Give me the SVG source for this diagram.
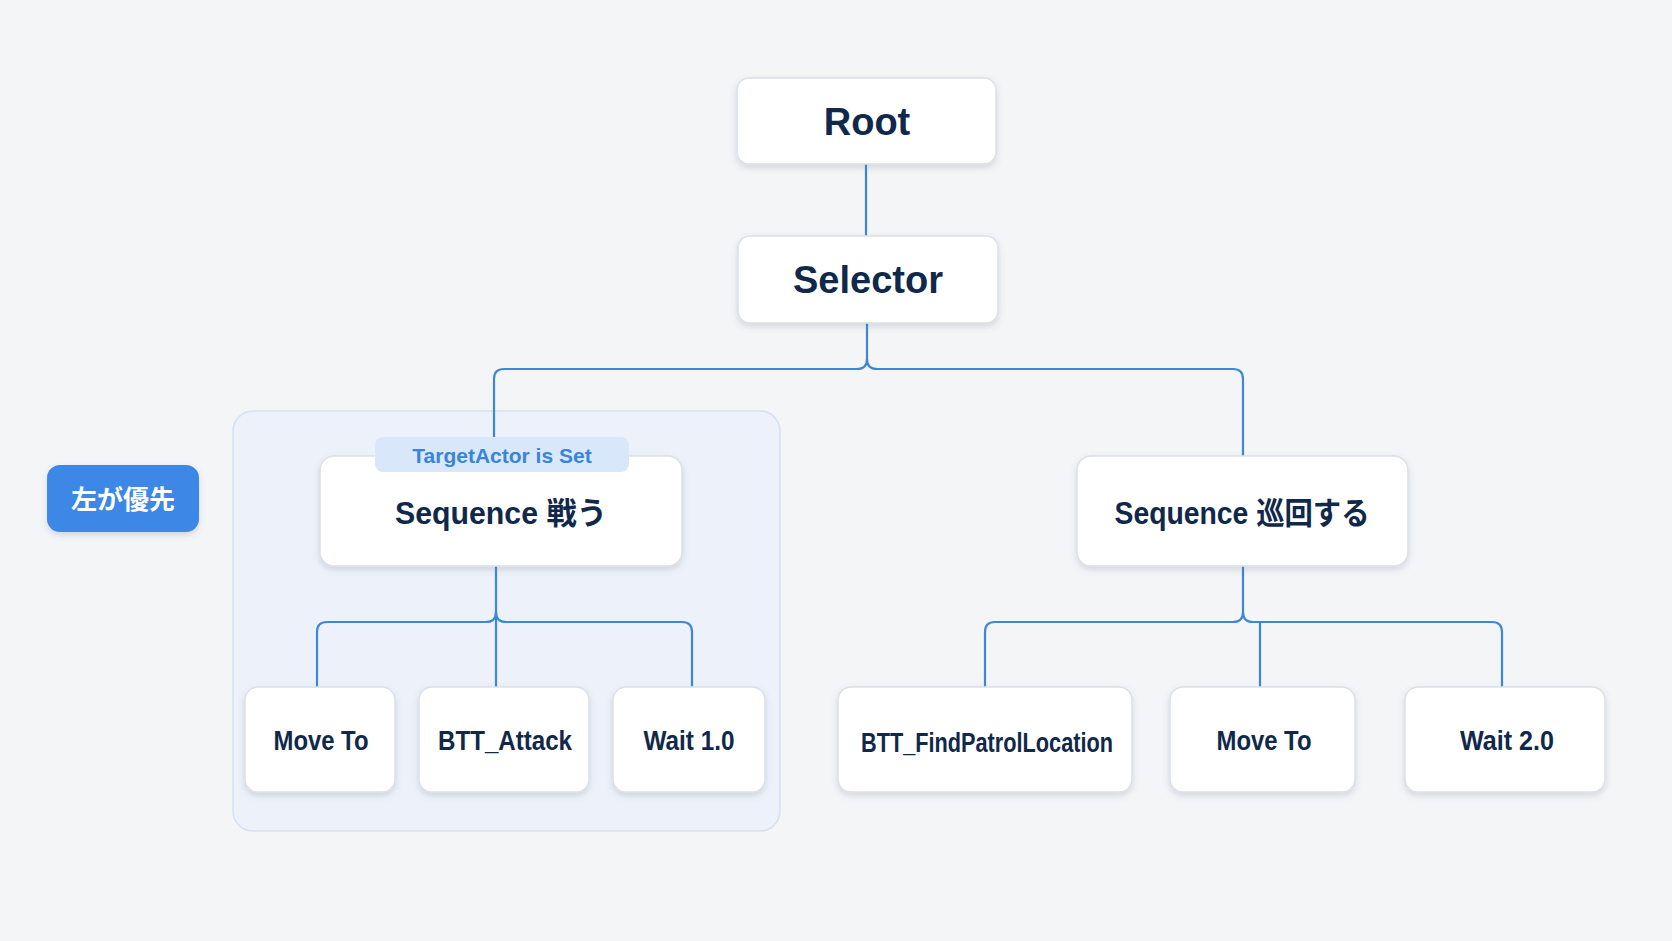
<svg xmlns="http://www.w3.org/2000/svg" width="1672" height="941" viewBox="0 0 1672 941">
<defs>
<filter id="sh" x="-20%" y="-20%" width="140%" height="150%">
<feDropShadow dx="0" dy="3" stdDeviation="3" flood-color="#5a6a80" flood-opacity="0.22"/>
</filter>
<style>
.node{fill:#ffffff;stroke:#dce1e7;stroke-width:1.5;filter:url(#sh)}
.t{font-family:"Liberation Sans","Noto Sans CJK JP",sans-serif;font-weight:700;fill:#10284a;text-anchor:middle}
.big{font-size:38px}
.mid{font-size:31px}
.leaf{font-size:27px}
.con{fill:none;stroke:#3d86d8;stroke-width:2.2;stroke-linecap:round;stroke-linejoin:round}
</style>
</defs>
<rect x="0" y="0" width="1672" height="941" fill="#f4f5f7"/>

<g id="group-fight">
<rect x="233" y="411" width="547" height="420" rx="20" fill="#edf2fa" stroke="#d3e1f3" stroke-width="1.5"/>
</g>

<g id="connectors">
<path class="con" d="M866 164 L866 236"/>
<path class="con" d="M867 323 L867 359 Q867 369 857 369 L504 369 Q494 369 494 379 L494 437"/>
<path class="con" d="M867 359 Q867 369 877 369 L1233 369 Q1243 369 1243 379 L1243 456"/>
<path class="con" d="M496 566 L496 687"/>
<path class="con" d="M496 612 Q496 622 486 622 L327 622 Q317 622 317 632 L317 687"/>
<path class="con" d="M496 612 Q496 622 506 622 L682 622 Q692 622 692 632 L692 687"/>
<path class="con" d="M1243 566 L1243 612 Q1243 622 1233 622 L995 622 Q985 622 985 632 L985 687"/>
<path class="con" d="M1243 612 Q1243 622 1253 622 L1492 622 Q1502 622 1502 632 L1502 687"/>
<path class="con" d="M1260 622 L1260 687"/>
</g>

<g id="node-root">
<rect class="node" x="737" y="78" width="259" height="86" rx="12"/>
<text class="t big" x="867" y="135">Root</text>
</g>

<g id="node-selector">
<rect class="node" x="738" y="236" width="260" height="87" rx="12"/>
<text class="t big" x="868" y="293">Selector</text>
</g>

<g id="node-seq-fight">
<rect class="node" x="320" y="456" width="362" height="110" rx="14"/>
<text class="t mid" x="501" y="524" textLength="212" lengthAdjust="spacingAndGlyphs">Sequence 戦う</text>
</g>

<g id="decorator-target">
<rect x="375" y="437" width="254" height="35" rx="8" fill="#d9e7fa"/>
<text x="502" y="463" font-family="Liberation Sans, sans-serif" font-weight="700" font-size="21" fill="#3a84da" text-anchor="middle">TargetActor is Set</text>
</g>

<g id="node-seq-patrol">
<rect class="node" x="1077" y="456" width="331" height="110" rx="14"/>
<text class="t mid" x="1242" y="524" textLength="255" lengthAdjust="spacingAndGlyphs">Sequence 巡回する</text>
</g>

<g id="node-moveto-1">
<rect class="node" x="245" y="687" width="150" height="105" rx="13"/>
<text class="t leaf" x="321" y="750" textLength="95" lengthAdjust="spacingAndGlyphs">Move To</text>
</g>

<g id="node-attack">
<rect class="node" x="419" y="687" width="170" height="105" rx="13"/>
<text class="t leaf" x="505" y="750" textLength="134" lengthAdjust="spacingAndGlyphs">BTT_Attack</text>
</g>

<g id="node-wait-1">
<rect class="node" x="613" y="687" width="152" height="105" rx="13"/>
<text class="t leaf" x="689" y="750" textLength="91" lengthAdjust="spacingAndGlyphs">Wait 1.0</text>
</g>

<g id="node-findpatrol">
<rect class="node" x="838" y="687" width="294" height="105" rx="13"/>
<text class="t leaf" x="987" y="752" textLength="252" lengthAdjust="spacingAndGlyphs">BTT_FindPatrolLocation</text>
</g>

<g id="node-moveto-2">
<rect class="node" x="1170" y="687" width="185" height="105" rx="13"/>
<text class="t leaf" x="1264" y="750" textLength="95" lengthAdjust="spacingAndGlyphs">Move To</text>
</g>

<g id="node-wait-2">
<rect class="node" x="1405" y="687" width="200" height="105" rx="13"/>
<text class="t leaf" x="1507" y="750" textLength="94" lengthAdjust="spacingAndGlyphs">Wait 2.0</text>
</g>

<g id="badge-left-priority">
<rect x="47" y="465" width="152" height="67" rx="13" fill="#3d87e6" filter="url(#sh)"/>
<text x="123" y="509" font-family="Noto Sans CJK JP, sans-serif" font-weight="700" font-size="26" fill="#ffffff" text-anchor="middle">左が優先</text>
</g>
</svg>
